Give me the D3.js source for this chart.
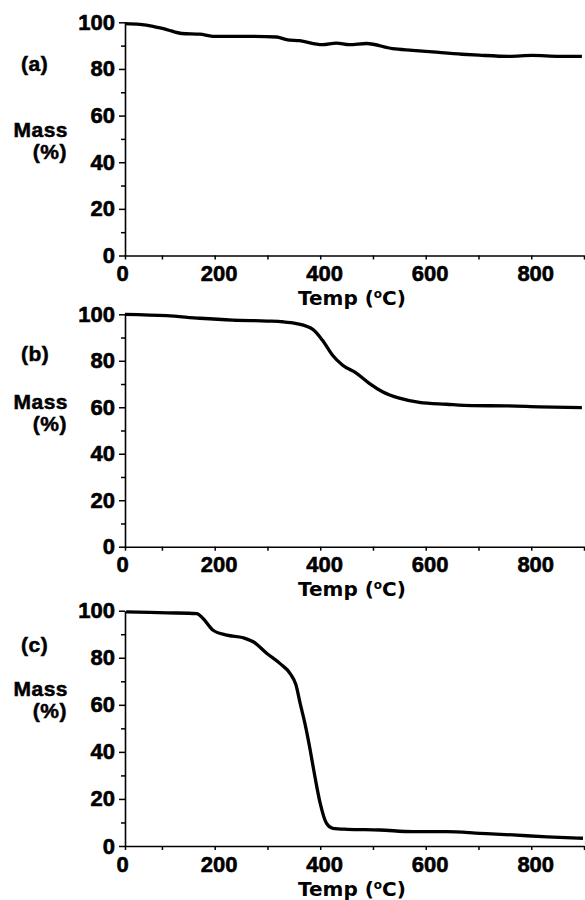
<!DOCTYPE html>
<html>
<head>
<meta charset="utf-8">
<script src="https://cdn.jsdelivr.net/npm/d3@7"></script>
<style>
  body { margin: 0; background: #fff; }
  .tick text { font-family: "Liberation Sans", Arial, sans-serif; font-weight: bold; font-size: 22px; fill: #000; stroke: #000; stroke-width: 0.6px; }
  .lbl { font-family: "Liberation Sans", Arial, sans-serif; font-weight: bold; font-size: 21px; letter-spacing: 0.5px; stroke: #000; stroke-width: 0.5px; }
  .temp { font-family: "DejaVu Sans", sans-serif; font-weight: bold; font-size: 20px; }
</style>
</head>
<body>
<div id="chart"></div>
<script>
// TGA curves (temperature in degC, mass in %)
var tempA = [30, 58, 83, 109, 138, 172, 196, 234, 272, 317, 336, 361, 404, 431, 455, 488, 537, 575, 613, 669, 701, 758, 802, 853, 896];
var massA = [99.4, 99.1, 98.3, 96.9, 95.2, 94.9, 94.0, 94.0, 94.0, 93.7, 92.6, 92.1, 90.4, 91.1, 90.4, 90.9, 88.7, 88.0, 87.3, 86.3, 85.9, 85.4, 85.8, 85.4, 85.4];

var tempB = [30, 109, 172, 234, 299, 329, 355, 386, 404, 423, 442, 469, 493, 518, 550, 588, 639, 688, 753, 815, 896];
var massB = [100, 99.4, 98.3, 97.5, 97.1, 96.8, 96.0, 93.5, 88.9, 82.5, 78.2, 74.6, 70.3, 66.7, 63.9, 62.1, 61.3, 60.7, 60.6, 60.2, 59.8];

var tempC = [32, 110, 166, 178, 197, 223, 254, 273, 299, 324, 343, 354, 362, 371, 381, 390, 400, 412, 424, 451, 513, 576, 640, 703, 765, 830, 898];
var massC = [99.5, 99.1, 98.8, 96.7, 91.7, 89.6, 88.5, 86.8, 81.8, 77.5, 73.3, 68.5, 60.6, 52.1, 40.8, 29.4, 18.1, 9.6, 7.5, 7.1, 6.8, 6.1, 6.1, 5.4, 4.7, 3.9, 3.3];

var panelTags = ["(a)", "(b)", "(c)"];
var xMajor = [30, 200, 400, 600, 800];   // first tick is labelled "0" at the axis origin
var xMinor = [100, 300, 500, 700, 900];
var yMajor = [0, 20, 40, 60, 80, 100];
var yMinor = [10, 30, 50, 70, 90];

var width = 585, height = 900;

// vertical layout of the three stacked panels
var layout = [
  { top: 22.3,  bottom: 255.5, tagY: 71,  massY: 137, pctY: 159 },
  { top: 314.3, bottom: 546.7, tagY: 361, massY: 409, pctY: 431 },
  { top: 610.7, bottom: 846,   tagY: 652, massY: 696, pctY: 718 }
];

var series = [
  tempA.map(function(t, i) { return { t: t, m: massA[i] }; }),
  tempB.map(function(t, i) { return { t: t, m: massB[i] }; }),
  tempC.map(function(t, i) { return { t: t, m: massC[i] }; })
];

var svg = d3.select("#chart")
            .append("svg")
            .attr("width", width)
            .attr("height", height);

var x = d3.scaleLinear().domain([30, 900]).range([125, 584]);

layout.forEach(function(p, k) {
  var y = d3.scaleLinear().domain([0, 100]).range([p.bottom, p.top]);
  var g = svg.append("g");

  // minor ticks first
  g.append("g")
   .attr("transform", "translate(0," + p.bottom + ")")
   .call(d3.axisBottom(x).tickValues(xMinor).tickSize(4).tickFormat(""))
   .call(function(s) { s.select(".domain").remove(); s.selectAll("line").attr("stroke-width", 1.5); });

  g.append("g")
   .attr("transform", "translate(125,0)")
   .call(d3.axisLeft(y).tickValues(yMinor).tickSize(4).tickFormat(""))
   .call(function(s) { s.select(".domain").remove(); s.selectAll("line").attr("stroke-width", 1.5); });

  // x axis
  var xa = g.append("g")
            .attr("transform", "translate(0," + p.bottom + ")")
            .call(d3.axisBottom(x).tickValues(xMajor).tickSize(4).tickSizeOuter(0).tickPadding(6)
                    .tickFormat(function(d) { return d === 30 ? "0" : d; }));
  xa.select(".domain").attr("stroke-width", 1.6);
  xa.selectAll("line").attr("stroke-width", 1.5);
  xa.selectAll("text").attr("x", function(d) { return d === 30 ? -3 : 4; });

  // y axis
  var ya = g.append("g")
            .attr("transform", "translate(125,0)")
            .call(d3.axisLeft(y).tickValues(yMajor).tickSize(6).tickSizeOuter(0).tickPadding(4));
  ya.select(".domain").attr("stroke-width", 1.6);
  ya.selectAll("line").attr("stroke-width", 1.5);

  // curve
  g.append("path")
   .datum(series[k])
   .attr("fill", "none")
   .attr("stroke", "#000")
   .attr("stroke-width", 3.3)
   .attr("stroke-linejoin", "round")
   .attr("d", d3.line()
                .x(function(d) { return x(d.t); })
                .y(function(d) { return y(d.m); })
                .curve(d3.curveMonotoneX));

  // labels
  g.append("text").attr("class", "lbl").attr("x", 21).attr("y", p.tagY).text(panelTags[k]);
  g.append("text").attr("class", "lbl").attr("x", 68).attr("y", p.massY).attr("text-anchor", "end").text("Mass");
  g.append("text").attr("class", "lbl").attr("x", 67).attr("y", p.pctY).attr("text-anchor", "end").text("(%)");

  var t = g.append("text").attr("class", "temp").attr("x", 298).attr("y", p.bottom + 49.5);
  t.append("tspan").text("Temp (");
  t.append("tspan").attr("font-size", "12px").attr("dy", -7).text("o");
  t.append("tspan").attr("dy", 7).text("C)");
});
</script>
</body>
</html>
